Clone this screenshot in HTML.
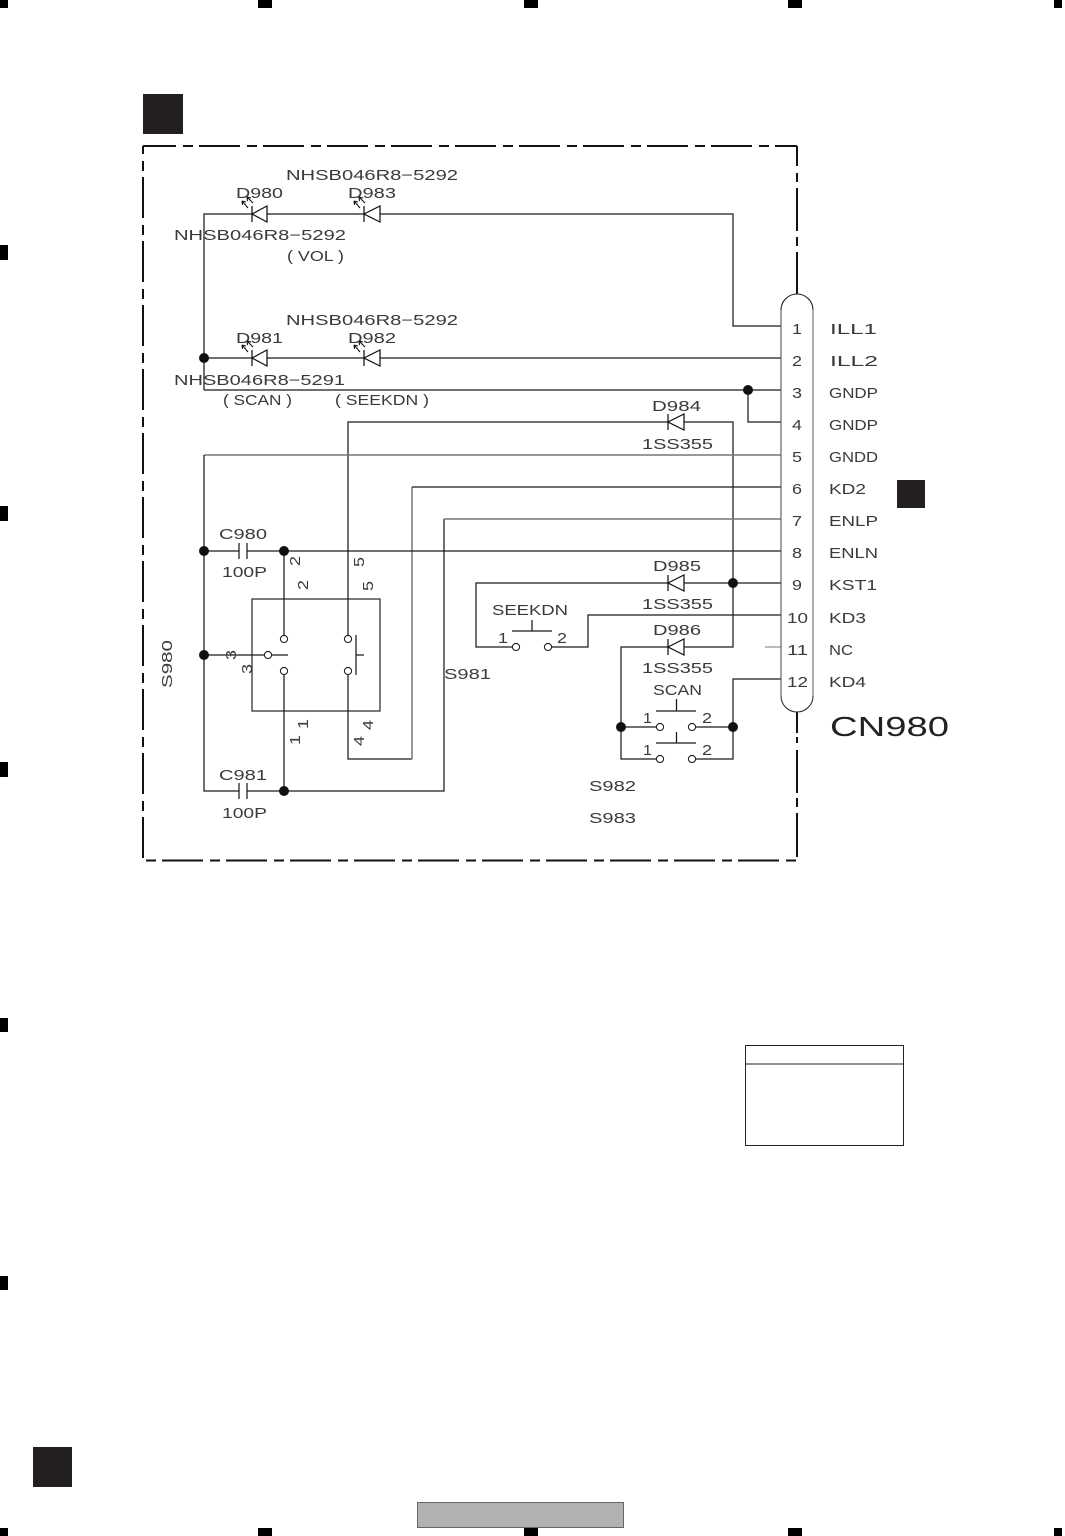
<!DOCTYPE html>
<html>
<head>
<meta charset="utf-8">
<style>
html,body{margin:0;padding:0;background:#fff}
svg{display:block}
text{font-family:"Liberation Sans",sans-serif;font-size:14.5px;fill:#3a3a3a}
.w{fill:none;stroke:#1a1a1a;stroke-width:1.25}
.g{fill:none;stroke:#777;stroke-width:1.5}
.f{fill:none;stroke:#111;stroke-width:2}
.o{fill:#fff;stroke:#222;stroke-width:1.1}
.d{fill:#111}
.m{fill:#000}
.b{fill:#231f20}
.a{fill:none;stroke:#111;stroke-width:1.1}
</style>
</head>
<body>
<svg xmlns="http://www.w3.org/2000/svg" width="1065" height="1536" viewBox="0 0 1065 1536">
<rect width="1065" height="1536" fill="#fff"/>

<!-- registration marks -->
<rect class="m" x="0" y="0" width="8" height="8"/>
<rect class="m" x="258" y="0" width="14" height="8"/>
<rect class="m" x="524" y="0" width="14" height="8"/>
<rect class="m" x="788" y="0" width="14" height="8"/>
<rect class="m" x="1054" y="0" width="8" height="8"/>
<rect class="m" x="0" y="245" width="8" height="15"/>
<rect class="m" x="0" y="506" width="8" height="15"/>
<rect class="m" x="0" y="762" width="8" height="15"/>
<rect class="m" x="0" y="1018" width="8" height="14"/>
<rect class="m" x="0" y="1276" width="8" height="14"/>
<rect class="m" x="0" y="1528" width="8" height="8"/>
<rect class="m" x="258" y="1528" width="14" height="8"/>
<rect class="m" x="524" y="1528" width="14" height="8"/>
<rect class="m" x="788" y="1528" width="14" height="8"/>
<rect class="m" x="1054" y="1528" width="8" height="8"/>

<!-- solid blocks -->
<rect class="b" x="143" y="94" width="40" height="40"/>
<rect class="b" x="897" y="480" width="28" height="28"/>
<rect class="b" x="33" y="1447" width="39" height="40"/>
<rect x="417.5" y="1502.5" width="206" height="25" fill="#b1b1b1" stroke="#666" stroke-width="1"/>

<!-- table -->
<rect x="745.5" y="1045.5" width="158" height="100" fill="#fff" stroke="#222" stroke-width="1"/>
<line x1="745" y1="1064" x2="904" y2="1064" stroke="#222" stroke-width="1"/>

<!-- dashed frame -->
<path class="f" d="M143 146H797" stroke-dasharray="41 7 10 6" stroke-dashoffset="8"/>
<path class="f" d="M143 146V858" stroke-dasharray="41 7 10 6" stroke-dashoffset="33"/>
<path class="f" d="M146 860.5H797" stroke-dasharray="41 7 10 6" stroke-dashoffset="48"/>
<path class="f" d="M797 146V166M797 173V182M797 188V231M797 237V246M797 252V294M797 712V733M797 737V743M797 750V793M797 798V807M797 813V857"/>

<!-- wires -->
<path class="w" d="M204 390V214H252M267 214H364M380 214H733V326H781"/>
<path class="w" d="M204 358H252M267 358H364M380 358H781"/>
<path class="w" d="M204 390H781"/>
<path class="w" d="M748 390V422H781"/>
<path class="w" d="M348 635V422H668M684 422H733V647H684M668 647H621V759H656M696 759H733V679H781"/>
<path class="g" d="M204 455H781"/>
<path class="w" d="M204 455V791H239M247 791H444V519"/>
<path class="g" d="M444 519H781"/>
<path class="w" d="M348 675V759H412"/>
<path class="g" d="M412 759V487"/>
<path class="w" d="M412 487H781"/>
<path class="w" d="M204 551H239M247 551H781"/>
<path class="w" d="M284 551V635M284 675V791"/>
<path class="w" d="M204 655H264M272 655H288"/>
<path class="w" d="M733 583H781M668 583H476V647H512M684 583H733"/>
<path class="w" d="M552 647H588V615H781"/>
<path class="g" d="M765 647H781" style="stroke-width:1"/>
<path class="w" d="M621 727H656M696 727H733"/>

<!-- capacitors -->
<path class="w" d="M239 543V559M247 543V559M239 783V799M247 783V799"/>

<!-- S980/S981 box -->
<rect x="252" y="599" width="128" height="112" fill="none" stroke="#222" stroke-width="1.2"/>
<path class="w" d="M356 635V675M356 655H364"/>
<circle class="o" cx="284" cy="639" r="3.6"/>
<circle class="o" cx="284" cy="671" r="3.6"/>
<circle class="o" cx="348" cy="639" r="3.6"/>
<circle class="o" cx="348" cy="671" r="3.6"/>
<circle class="o" cx="268" cy="655" r="3.6"/>

<!-- push switches -->
<path class="w" d="M512 631H552M532 620V631"/>
<circle class="o" cx="516" cy="647" r="3.6"/>
<circle class="o" cx="548" cy="647" r="3.6"/>
<path class="w" d="M656 711H696M676.5 699V711M656 743H696M676.5 732V743"/>
<circle class="o" cx="660" cy="727" r="3.6"/>
<circle class="o" cx="692" cy="727" r="3.6"/>
<circle class="o" cx="660" cy="759" r="3.6"/>
<circle class="o" cx="692" cy="759" r="3.6"/>

<!-- diodes -->
<g fill="#fff" stroke="#111" stroke-width="1.25">
<path d="M252 214L267 206V222Z M252 206V222"/>
<path d="M364 214L380 206V222Z M364 206V222"/>
<path d="M252 358L267 350V366Z M252 350V366"/>
<path d="M364 358L380 350V366Z M364 350V366"/>
<path d="M668 422L684 414V430Z M668 414V430"/>
<path d="M668 583L684 575V591Z M668 575V591"/>
<path d="M668 647L684 639V655Z M668 639V655"/>
</g>

<!-- LED arrows -->
<g class="a">
<path d="M248 208L242 201M242 201L242.5 205M242 201L246 202"/>
<path d="M253 203L247 197M247 197L247.5 201M247 197L251 198"/>
<path d="M360 208L354 201M354 201L354.5 205M354 201L358 202"/>
<path d="M365 203L359 197M359 197L359.5 201M359 197L363 198"/>
<path d="M248 352L242 345M242 345L242.5 349M242 345L246 346"/>
<path d="M253 347L247 341M247 341L247.5 345M247 341L251 342"/>
<path d="M360 352L354 345M354 345L354.5 349M354 345L358 346"/>
<path d="M365 347L359 341M359 341L359.5 345M359 341L363 342"/>
</g>

<!-- connector body -->
<path d="M781 310A16 16 0 0 1 813 310" fill="none" stroke="#222" stroke-width="1.1"/>
<path d="M781 696A16 16 0 0 0 813 696" fill="none" stroke="#333" stroke-width="1.1"/>
<path d="M781 310V696" fill="none" stroke="#555" stroke-width="1.1"/>
<path d="M813 310V696" fill="none" stroke="#999" stroke-width="1.6"/>

<!-- junction dots -->
<g class="d">
<circle cx="204" cy="358" r="5"/>
<circle cx="204" cy="551" r="5"/>
<circle cx="284" cy="551" r="5"/>
<circle cx="204" cy="655" r="5"/>
<circle cx="284" cy="791" r="5"/>
<circle cx="748" cy="390" r="5"/>
<circle cx="733" cy="583" r="5"/>
<circle cx="621" cy="727" r="5"/>
<circle cx="733" cy="727" r="5"/>
</g>

<!-- labels -->
<text x="286" y="180" textLength="172" lengthAdjust="spacingAndGlyphs">NHSB046R8−5292</text>
<text x="236" y="198" textLength="47" lengthAdjust="spacingAndGlyphs">D980</text>
<text x="348" y="198" textLength="48" lengthAdjust="spacingAndGlyphs">D983</text>
<text x="174" y="240" textLength="172" lengthAdjust="spacingAndGlyphs">NHSB046R8−5292</text>
<text x="287" y="261" textLength="57" lengthAdjust="spacingAndGlyphs">( VOL )</text>
<text x="286" y="325" textLength="172" lengthAdjust="spacingAndGlyphs">NHSB046R8−5292</text>
<text x="236" y="343" textLength="47" lengthAdjust="spacingAndGlyphs">D981</text>
<text x="348" y="343" textLength="48" lengthAdjust="spacingAndGlyphs">D982</text>
<text x="174" y="385" textLength="171" lengthAdjust="spacingAndGlyphs">NHSB046R8−5291</text>
<text x="223" y="405" textLength="69" lengthAdjust="spacingAndGlyphs">( SCAN )</text>
<text x="335" y="405" textLength="94" lengthAdjust="spacingAndGlyphs">( SEEKDN )</text>
<text x="652" y="411" textLength="49" lengthAdjust="spacingAndGlyphs">D984</text>
<text x="642" y="449" textLength="71" lengthAdjust="spacingAndGlyphs">1SS355</text>
<text x="653" y="571" textLength="48" lengthAdjust="spacingAndGlyphs">D985</text>
<text x="642" y="609" textLength="71" lengthAdjust="spacingAndGlyphs">1SS355</text>
<text x="653" y="635" textLength="48" lengthAdjust="spacingAndGlyphs">D986</text>
<text x="642" y="673" textLength="71" lengthAdjust="spacingAndGlyphs">1SS355</text>
<text x="492" y="615" textLength="76" lengthAdjust="spacingAndGlyphs">SEEKDN</text>
<text x="653" y="695" textLength="49" lengthAdjust="spacingAndGlyphs">SCAN</text>
<text x="589" y="791" textLength="47" lengthAdjust="spacingAndGlyphs">S982</text>
<text x="589" y="823" textLength="47" lengthAdjust="spacingAndGlyphs">S983</text>
<text x="444" y="679" textLength="47" lengthAdjust="spacingAndGlyphs">S981</text>
<text x="219" y="539" textLength="48" lengthAdjust="spacingAndGlyphs">C980</text>
<text x="222" y="577" textLength="45" lengthAdjust="spacingAndGlyphs">100P</text>
<text x="219" y="780" textLength="48" lengthAdjust="spacingAndGlyphs">C981</text>
<text x="222" y="818" textLength="45" lengthAdjust="spacingAndGlyphs">100P</text>

<!-- switch pin numbers -->
<text x="498" y="643" textLength="10" lengthAdjust="spacingAndGlyphs">1</text>
<text x="557" y="643" textLength="10" lengthAdjust="spacingAndGlyphs">2</text>
<text x="643" y="723" textLength="9" lengthAdjust="spacingAndGlyphs">1</text>
<text x="702" y="723" textLength="10" lengthAdjust="spacingAndGlyphs">2</text>
<text x="643" y="755" textLength="9" lengthAdjust="spacingAndGlyphs">1</text>
<text x="702" y="755" textLength="10" lengthAdjust="spacingAndGlyphs">2</text>

<!-- rotated labels -->
<text transform="translate(172 688) rotate(-90)" textLength="48" lengthAdjust="spacingAndGlyphs">S980</text>
<text transform="translate(300 566) rotate(-90)" textLength="10" lengthAdjust="spacingAndGlyphs">2</text>
<text transform="translate(308 590) rotate(-90)" textLength="10" lengthAdjust="spacingAndGlyphs">2</text>
<text transform="translate(364 567) rotate(-90)" textLength="10" lengthAdjust="spacingAndGlyphs">5</text>
<text transform="translate(373 591) rotate(-90)" textLength="10" lengthAdjust="spacingAndGlyphs">5</text>
<text transform="translate(236 660) rotate(-90)" textLength="10" lengthAdjust="spacingAndGlyphs">3</text>
<text transform="translate(252 674) rotate(-90)" textLength="10" lengthAdjust="spacingAndGlyphs">3</text>
<text transform="translate(308 729) rotate(-90)" textLength="10" lengthAdjust="spacingAndGlyphs">1</text>
<text transform="translate(300 745) rotate(-90)" textLength="10" lengthAdjust="spacingAndGlyphs">1</text>
<text transform="translate(373 730) rotate(-90)" textLength="10" lengthAdjust="spacingAndGlyphs">4</text>
<text transform="translate(364 746) rotate(-90)" textLength="10" lengthAdjust="spacingAndGlyphs">4</text>

<!-- connector pin numbers -->
<text x="792" y="334" textLength="10" lengthAdjust="spacingAndGlyphs">1</text>
<text x="792" y="366" textLength="10" lengthAdjust="spacingAndGlyphs">2</text>
<text x="792" y="398" textLength="10" lengthAdjust="spacingAndGlyphs">3</text>
<text x="792" y="430" textLength="10" lengthAdjust="spacingAndGlyphs">4</text>
<text x="792" y="462" textLength="10" lengthAdjust="spacingAndGlyphs">5</text>
<text x="792" y="494" textLength="10" lengthAdjust="spacingAndGlyphs">6</text>
<text x="792" y="526" textLength="10" lengthAdjust="spacingAndGlyphs">7</text>
<text x="792" y="558" textLength="10" lengthAdjust="spacingAndGlyphs">8</text>
<text x="792" y="590" textLength="10" lengthAdjust="spacingAndGlyphs">9</text>
<text x="787" y="623" textLength="21" lengthAdjust="spacingAndGlyphs">10</text>
<text x="787" y="655" textLength="21" lengthAdjust="spacingAndGlyphs">11</text>
<text x="787" y="687" textLength="21" lengthAdjust="spacingAndGlyphs">12</text>

<!-- connector pin names -->
<text x="830" y="334" textLength="47" lengthAdjust="spacingAndGlyphs">ILL1</text>
<text x="830" y="366" textLength="48" lengthAdjust="spacingAndGlyphs">ILL2</text>
<text x="829" y="398" textLength="49" lengthAdjust="spacingAndGlyphs">GNDP</text>
<text x="829" y="430" textLength="49" lengthAdjust="spacingAndGlyphs">GNDP</text>
<text x="829" y="462" textLength="49" lengthAdjust="spacingAndGlyphs">GNDD</text>
<text x="829" y="494" textLength="37" lengthAdjust="spacingAndGlyphs">KD2</text>
<text x="829" y="526" textLength="49" lengthAdjust="spacingAndGlyphs">ENLP</text>
<text x="829" y="558" textLength="49" lengthAdjust="spacingAndGlyphs">ENLN</text>
<text x="829" y="590" textLength="48" lengthAdjust="spacingAndGlyphs">KST1</text>
<text x="829" y="623" textLength="37" lengthAdjust="spacingAndGlyphs">KD3</text>
<text x="829" y="655" textLength="24" lengthAdjust="spacingAndGlyphs">NC</text>
<text x="829" y="687" textLength="37" lengthAdjust="spacingAndGlyphs">KD4</text>
<text x="830" y="736" textLength="119" lengthAdjust="spacingAndGlyphs" style="font-size:27.5px;fill:#222">CN980</text>
</svg>
</body>
</html>
